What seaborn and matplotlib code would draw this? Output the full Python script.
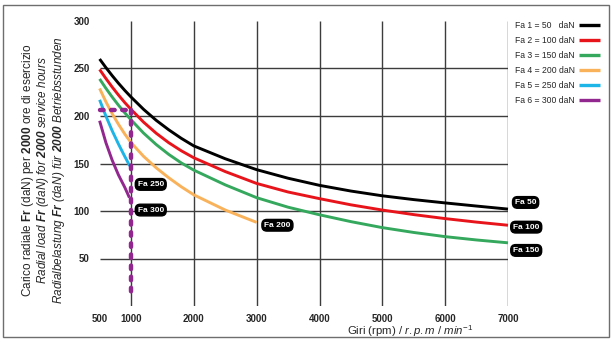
import numpy as np
import pandas as pd
import matplotlib
matplotlib.use("Agg")
import matplotlib.pyplot as plt
import seaborn as sns
from matplotlib.patches import Rectangle

# ── data ────────────────────────────────────────────────────
speed_main = [500, 600, 700, 800, 900, 1000, 1200, 1400, 1600, 1800, 2000,
              2500, 3000, 3500, 4000, 4500, 5000, 5500, 6000, 6500, 7000]
load_fa50 = [260, 251, 242.5, 234.5, 227, 220, 207, 195.5, 185.5, 176.5, 168.5,
             155, 143.5, 134.5, 127, 121, 116, 112, 108.5, 105.2, 102]
load_fa100 = [249, 239.5, 230.5, 222.1, 214.2, 207, 193.5, 181.9, 171.9, 163.4, 156,
              141.5, 129, 120, 113, 106.5, 101, 96.2, 92, 88.3, 85]
load_fa150 = [239, 229.2, 220, 211.4, 203.4, 196, 182, 170, 159.6, 150.6, 143,
              127.5, 114, 104, 96, 88.8, 82.5, 77.4, 73, 69.5, 66.5]

speed_fa200 = [500, 600, 700, 800, 900, 1000, 1200, 1400, 1600, 1800, 2000, 2500, 3000]
load_fa200 = [229, 215, 202.5, 191.3, 181.1, 172, 157.5, 145.5, 135, 125.5, 117, 101, 88]

speed_fa250 = [500, 600, 700, 800, 900, 980]
load_fa250 = [217, 200, 184.5, 170.5, 157.5, 147.5]

speed_fa300 = [500, 600, 700, 800, 900, 975]
load_fa300 = [195, 172, 153.5, 138, 125, 114]

legend_labels = ["Fa 1 = 50   daN", "Fa 2 = 100 daN", "Fa 3 = 150 daN",
                 "Fa 4 = 200 daN", "Fa 5 = 250 daN", "Fa 6 = 300 daN"]
colors = ["#000000", "#E8141B", "#35A85E", "#F9B25A", "#1DB4E8", "#92278F"]

# curve tags
tag_text = ["Fa 50", "Fa 100", "Fa 150", "Fa 200", "Fa 250", "Fa 300"]
tag_x = [7280, 7290, 7290, 3330, 1314, 1314]
tag_y = [109, 83, 58.5, 85, 128, 101]

# reference point (dashed purple guide)
ref_speed = 1000
ref_load = 206
ref_bottom = 8

x_ticks = [500, 1000, 2000, 3000, 4000, 5000, 6000, 7000]
y_ticks = [50, 100, 150, 200, 250, 300]
v_grid = [1000, 2000, 3000, 4000, 5000, 6000, 7000]
h_grid = [50, 100, 150, 200, 250]

# ── long-form table ─────────────────────────────────────────
series = [
    (speed_main, load_fa50), (speed_main, load_fa100), (speed_main, load_fa150),
    (speed_fa200, load_fa200), (speed_fa250, load_fa250), (speed_fa300, load_fa300),
]
frames = []
for lab, (xs, ys) in zip(legend_labels, series):
    frames.append(pd.DataFrame({"speed": xs, "load": ys, "series": lab}))
df = pd.concat(frames, ignore_index=True)

# ── style ───────────────────────────────────────────────────
sns.set_style("white")
plt.rcParams["font.family"] = ["Liberation Sans", "DejaVu Sans"]
plt.rcParams["mathtext.fontset"] = "custom"
plt.rcParams["mathtext.rm"] = "Liberation Sans"
plt.rcParams["mathtext.it"] = "Liberation Sans:italic"
plt.rcParams["mathtext.bf"] = "Liberation Sans:bold"
plt.rcParams["mathtext.bfit"] = "Liberation Sans:italic:bold"

fig = plt.figure(figsize=(6.12, 3.42), dpi=100)
ax = fig.add_axes([99.6 / 612, 1 - 306 / 342, (508 - 99.6) / 612, (306 - 21) / 342])

# grid
ax.vlines(v_grid, 0, 300, color="#3c3c3c", lw=1.0, zorder=1)
ax.hlines(h_grid, 500, 7000, color="#3c3c3c", lw=1.0, zorder=1)

sns.lineplot(data=df, x="speed", y="load", hue="series", hue_order=legend_labels,
             palette=colors, sort=False, estimator=None, lw=2.1, ax=ax, zorder=3)
for ln in ax.lines:
    ln.set_solid_capstyle("butt")
    ln.set_solid_joinstyle("round")
    ln.set_clip_on(False)

# dashed guide
ax.plot([500, ref_speed], [ref_load, ref_load], color="#92278F", lw=3.2,
        ls=(0, (0.8, 1.7)), dash_capstyle="round", zorder=4, clip_on=False)
ax.plot([ref_speed, ref_speed], [ref_load, ref_bottom], color="#92278F", lw=3.2,
        ls=(0, (0.8, 1.7)), dash_capstyle="round", zorder=4, clip_on=False)

ax.set_xlim(500, 7000)
ax.set_ylim(0, 300)
ax.set_xticks(x_ticks)
ax.set_yticks(y_ticks)
ax.set_xticklabels([str(v) for v in x_ticks], fontsize=7, fontweight="bold")
ax.set_yticklabels([str(v) for v in y_ticks], fontsize=7, fontweight="bold")
ax.tick_params(length=0, pad=7)
ax.tick_params(axis="x", pad=6)
sns.despine(ax=ax, left=True, bottom=True)
ax.set_xlabel("")
ax.set_ylabel("")

# curve tags
for t, x, y in zip(tag_text, tag_x, tag_y):
    ax.text(x, y, t, ha="center", va="center", color="white", fontsize=6,
            fontweight="bold", zorder=6,
            bbox=dict(boxstyle="round,pad=0.28,rounding_size=0.6", fc="black", ec="black"))

# legend: text first, line sample on the right
handles, labels = ax.get_legend_handles_labels()
ax.legend(handles, labels, markerfirst=False, loc="upper left",
          bbox_to_anchor=(515 / 612, 1 - 21 / 342), bbox_transform=fig.transFigure,
          frameon=False, fontsize=6.2, handlelength=2.4, handletextpad=0.5,
          labelspacing=0.7, borderpad=0, borderaxespad=0)
for h in ax.get_legend().get_lines():
    h.set_linewidth(2.4)

# axis titles
fig.text(28 / 612, 1 - 170 / 342,
         r"Carico radiale $\mathbf{Fr}$ (daN) per $\mathbf{2000}$ ore di esercizio",
         rotation=90, ha="center", va="center", fontsize=8.5)
fig.text(43.5 / 612, 1 - 170 / 342,
         r"Radial load $\mathbfit{Fr}$ (daN) for $\mathbfit{2000}$ service hours",
         rotation=90, ha="center", va="center", fontsize=8.5, style="italic")
fig.text(59 / 612, 1 - 170 / 342,
         r"Radialbelastung $\mathbfit{Fr}$ (daN) für $\mathbfit{2000}$ Betriebsstunden",
         rotation=90, ha="center", va="center", fontsize=8.5, style="italic")
fig.text(410 / 612, 1 - 331 / 342, r"Giri (rpm) / $\mathit{r.p.m\ /\ min^{-1}}$",
         ha="center", va="center", fontsize=8.2)

# outer frame
fig.patches.append(Rectangle((3.5 / 612, 1 - 337 / 342), (609 - 3.5) / 612, (337 - 4.5) / 342,
                             transform=fig.transFigure, fill=False, ec="#6e6e6e", lw=1.0))

fig.savefig("out.png", dpi=100)
